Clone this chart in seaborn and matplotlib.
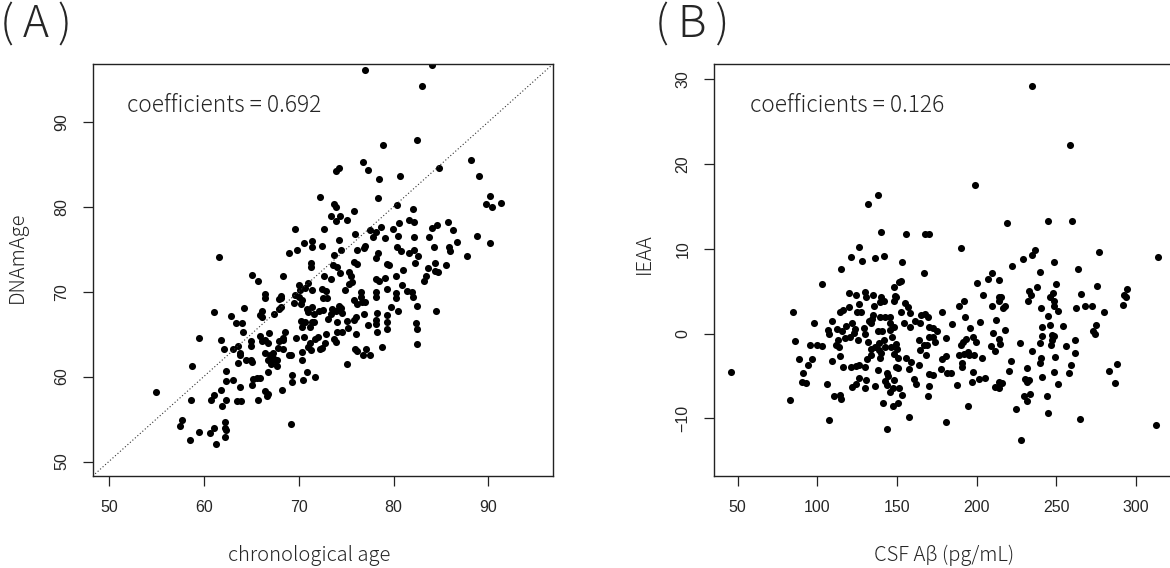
import numpy as np
import pandas as pd
import seaborn as sns
import matplotlib.pyplot as plt

# ---- panel A: chronological age vs DNAmAge ----
age_a = [
    72.2, 69.6, 71.4, 70.6, 71.4, 69.8, 69.0, 61.6, 71.3, 71.3, 65.1, 65.7, 68.3,
    70.0, 71.0, 70.7, 71.4, 70.1, 69.6, 66.5, 68.1,
    77.0, 84.1, 83.0, 78.9, 82.5, 76.8, 77.3, 73.9, 74.2, 78.5, 80.7, 84.8, 88.2,
    89.0, 90.2, 89.7, 90.4, 91.3, 78.4, 80.4, 82.0, 73.7, 73.9, 75.8, 73.4, 73.9,
    74.4, 75.1, 72.7, 72.5, 74.3, 74.5, 75.9, 77.0, 76.9, 76.1, 77.5, 78.2, 78.7,
    77.8, 79.1, 79.9, 80.6, 80.5, 81.6, 82.2, 82.2, 80.4, 80.8, 81.6, 82.2, 82.6,
    83.7, 84.0, 84.6, 85.7, 86.3, 86.7, 85.8, 85.9, 84.3, 88.8, 90.2, 87.7, 78.4,
    78.2, 79.3, 79.5, 82.3, 81.0, 83.6, 83.4, 84.4, 84.4, 84.7, 85.5, 83.2, 80.3,
    75.8, 76.1, 73.7, 73.6, 74.0, 74.4, 75.3, 75.5, 73.4, 72.7, 72.5, 72.9, 74.9,
    75.6, 75.3, 76.6, 78.1, 78.1, 78.5, 79.1, 79.3, 80.9, 80.3, 81.4, 81.9,
    55.0, 59.5, 58.8, 58.7, 57.7, 57.5, 59.5, 58.5, 60.7, 61.1, 61.3, 62.2, 62.2,
    62.3, 62.2, 61.1, 61.8, 62.1, 60.8, 61.1, 61.8, 61.9, 62.3, 62.3, 62.3, 63.1,
    63.8, 63.5, 63.9, 62.9, 64.2, 63.4, 64.0, 64.1, 63.1, 63.6, 63.8, 63.8, 63.6,
    64.4, 65.0, 65.1, 65.0, 65.1, 65.2, 65.6, 65.9, 65.7, 66.5, 66.8, 66.7, 68.2,
    69.2, 69.3, 69.3, 70.5, 71.7, 70.9, 70.4, 70.4, 69.2, 69.0, 69.7, 70.6, 66.8,
    67.7, 67.5, 66.5, 67.0, 67.3, 67.7, 67.3, 66.8, 67.1, 67.8, 68.4, 67.9, 68.4,
    68.6, 68.4, 66.1, 66.5, 66.8, 65.9, 66.9, 65.0, 66.1, 66.1, 65.9, 67.4, 68.1,
    67.9, 66.5, 68.1, 67.9, 69.5, 70.0, 70.4, 70.3, 70.9, 71.4, 71.0, 71.6, 72.1,
    70.2, 71.4, 70.7, 70.4, 71.2, 71.6, 71.7, 72.0, 71.2, 71.0, 71.3, 72.2,
    84.5, 82.5, 82.4, 82.5, 82.5, 80.5, 79.7, 80.3, 78.8, 79.3, 79.3, 79.3, 78.3,
    78.1, 78.2, 78.3, 77.3, 77.1, 76.8, 77.5, 75.9, 76.2, 75.1, 76.0, 75.1, 75.2,
    74.6, 74.0, 74.0, 73.1, 72.9, 72.8, 73.7, 73.9, 72.5, 72.6, 73.5, 73.9, 74.6,
    74.5, 74.3, 73.4, 75.8, 76.2, 76.7, 77.0, 76.0, 75.8, 76.9, 72.6, 73.0, 76.6,
    78.1, 82.0,
]
dnam_age = [
    81.1, 77.4, 76.0, 75.7, 75.2, 74.9, 74.5, 74.1, 73.4, 72.9, 72.0, 71.3, 71.9,
    70.8, 71.0, 70.4, 70.2, 70.2, 69.6, 69.7, 69.5,
    96.1, 96.7, 94.2, 87.3, 87.8, 85.3, 84.3, 84.2, 84.5, 83.3, 83.6, 84.5, 85.5,
    83.6, 81.3, 80.3, 80.0, 80.4, 81.0, 80.2, 79.7, 80.3, 80.0, 79.5, 78.9, 78.3,
    78.9, 78.4, 77.4, 75.4, 76.1, 74.9, 76.8, 75.4, 75.1, 74.9, 77.3, 77.0, 77.6,
    76.4, 76.3, 77.4, 78.1, 76.6, 78.4, 78.2, 76.4, 75.2, 74.8, 74.5, 74.9, 74.2,
    76.4, 77.5, 77.9, 78.2, 77.2, 75.9, 75.3, 74.8, 75.3, 76.6, 75.7, 74.2, 74.6,
    74.0, 73.3, 73.1, 73.4, 72.5, 72.8, 71.9, 73.4, 72.4, 72.3, 73.1, 71.2, 71.8,
    73.5, 73.2, 74.3, 73.1, 72.9, 72.2, 72.3, 71.9, 71.5, 71.9, 70.3, 70.1, 70.2,
    71.1, 70.9, 70.0, 70.0, 71.5, 71.3, 71.6, 70.3, 70.8, 69.8, 70.1, 70.0,
    58.2, 64.6, 61.3, 57.2, 54.9, 54.2, 53.5, 52.5, 53.4, 53.9, 52.1, 54.6, 54.0,
    53.7, 52.9, 67.6, 64.3, 63.3, 57.2, 57.8, 58.4, 56.5, 57.3, 60.7, 59.5, 59.6,
    58.8, 57.1, 57.1, 67.1, 68.1, 66.3, 66.3, 65.2, 63.3, 63.6, 62.8, 62.5, 61.6,
    61.9, 62.0, 61.7, 63.6, 59.0, 59.7, 59.8, 59.8, 57.3, 58.3, 58.0, 57.7, 58.4,
    54.4, 60.2, 59.4, 59.6, 59.9, 60.5, 62.0, 62.9, 62.5, 62.5, 64.6, 64.7, 60.6,
    61.2, 61.9, 62.8, 62.6, 62.2, 62.0, 62.8, 62.0, 61.5, 63.4, 63.3, 64.2, 64.5,
    65.2, 64.3, 64.2, 64.3, 63.9, 64.8, 65.1, 64.2, 67.0, 67.7, 67.3, 67.4, 68.2,
    68.0, 69.3, 69.3, 69.1, 68.7, 69.4, 69.0, 68.5, 68.0, 68.2, 67.6, 67.4, 67.7,
    66.6, 66.4, 66.4, 65.8, 65.8, 66.4, 64.4, 64.7, 63.9, 63.5, 63.1, 63.2,
    67.7, 68.3, 66.3, 65.6, 63.8, 67.7, 68.2, 69.2, 63.5, 67.3, 66.4, 65.6, 67.5,
    66.7, 66.2, 65.3, 66.1, 63.2, 62.5, 62.5, 63.2, 63.0, 61.5, 65.0, 66.5, 65.7,
    65.3, 65.3, 66.4, 66.8, 65.0, 63.9, 64.4, 64.1, 63.4, 67.9, 68.0, 67.7, 67.5,
    68.1, 68.3, 67.4, 69.0, 68.6, 68.8, 68.8, 67.0, 66.7, 67.4, 69.3, 69.3, 69.4,
    69.4, 69.4,
]

# ---- panel B: CSF Abeta vs IEAA ----
csf_ab = [
    138.1, 132.0, 139.8, 155.8, 167.3, 170.2, 126.0, 121.2, 127.9, 136.0, 142.1,
    152.9, 114.8, 167.0, 103.0, 152.3, 151.0, 147.9, 120.0, 124.0, 129.8, 135.2,
    149.0,
    234.7, 258.8, 198.8, 218.9, 244.8, 259.9, 189.9, 276.8, 313.8, 236.8, 234.9,
    228.8, 221.9, 248.5, 263.6, 240.0, 209.8, 206.9, 214.0, 200.0, 249.6, 238.2,
    232.9, 234.4, 247.9, 265.7, 275.6, 294.6, 292.5, 203.8, 214.3,
    46.0, 82.6, 84.7, 85.8, 88.5, 91.0, 90.6, 92.7, 94.1, 96.8, 98.1, 95.2, 99.8,
    102.7, 109.0, 106.5, 107.0, 109.0, 106.1, 107.1, 110.7, 114.1, 115.1, 114.1,
    112.0, 113.5, 112.8, 114.1, 115.8, 112.4, 115.3, 118.0, 116.2, 120.0, 117.3,
    120.2, 121.9, 123.6, 122.9, 121.0, 124.0, 125.9, 121.9, 124.2, 126.4, 130.2,
    124.6, 127.4, 126.4, 125.6, 129.2, 130.2, 130.4, 130.2, 136.5, 131.2, 133.5,
    133.5, 131.8, 132.5, 135.0, 134.6, 133.5, 135.6, 130.4, 139.1, 140.2, 138.3,
    138.3, 140.8, 138.9, 141.6, 142.7, 136.4, 138.5, 139.1, 142.2, 139.1, 141.6,
    140.2, 143.5, 144.3, 142.4, 143.9, 145.4, 141.2, 147.2, 143.9, 146.2, 146.8,
    145.4, 145.8, 147.9, 145.8, 149.6, 150.0, 147.9, 150.6, 149.6, 150.6, 148.2,
    147.8, 151.2, 153.0, 150.9, 157.3, 147.9, 149.4, 155.0, 156.9, 158.0, 152.6,
    154.2, 158.4, 161.5, 164.3, 165.1, 155.9, 157.6, 160.9, 161.9, 158.5, 163.9,
    163.6, 164.3, 166.8, 168.9, 168.0, 167.3, 169.2, 170.4, 170.2, 169.8, 170.2,
    169.4,
    312.6, 264.9, 227.8, 180.8, 194.8, 224.8, 244.7, 243.9, 231.7, 229.8, 233.6,
    231.9, 230.4, 232.9, 251.1, 286.9, 283.1, 288.1, 258.2, 259.5, 248.3, 240.9,
    220.6, 221.6, 231.7, 234.6, 239.8, 240.6, 249.2, 227.3, 239.6, 240.9, 240.9,
    245.9, 247.1, 248.8, 247.1, 246.7, 255.9, 262.0, 262.0, 254.3, 244.5, 251.2,
    248.8, 248.8, 246.0, 240.3, 232.2, 262.3, 268.0, 272.2, 279.9, 274.9, 273.2,
    274.1, 292.2, 294.0, 215.1, 214.3, 216.4, 217.5, 209.7, 212.0, 210.1, 217.9,
    213.9, 214.7, 211.8, 209.1, 201.9, 191.9, 188.7, 193.0, 196.0, 197.5, 199.6,
    193.3, 191.2, 190.2, 192.3, 195.4, 194.4, 198.6, 203.6, 191.1, 190.7, 198.0,
    197.4, 201.6, 205.1, 214.0, 211.5, 213.8, 215.7, 187.9, 184.7, 178.2, 180.7,
    173.9, 172.4, 172.4, 175.0, 178.4, 180.9, 177.8, 181.6, 183.7, 172.4, 189.1,
]
ieaa = [
    16.3, 15.3, 12.0, 11.7, 11.8, 11.8, 10.2, 9.0, 8.6, 8.9, 9.2,
    8.4, 7.6, 7.1, 5.9, 6.2, 6.1, 5.5, 4.8, 4.5, 4.9, 4.5,
    4.4,
    29.2, 22.3, 17.5, 13.1, 13.3, 13.3, 10.1, 9.6, 9.0, 9.9, 9.3,
    8.8, 8.0, 8.4, 7.6, 7.3, 7.2, 6.4, 6.3, 6.0, 5.9, 5.5,
    5.0, 4.6, 4.8, 4.7, 5.6, 5.3, 4.6, 4.5, 4.3,
    -4.5, -7.8, 2.5, -0.9, -3.0, -4.6, -5.7, -5.8, -3.7, -3.0, 1.3, -1.3, -1.4,
    -1.5, 1.5, 0.4, -0.1, -3.2, -6.0, -10.2, -7.4, -7.2, -7.7, -2.7,
    -1.3, -1.6, -0.8, 2.6, 2.8, 0.5, 0.3, 0.9, -3.9, 3.1, -0.5,
    -0.4, 1.3, 0.5, 0.1, -3.9, -3.8, -3.7, -6.3, -6.0, -5.2, -3.9,
    2.6, 2.6, 3.5, -0.8, 0.6, -0.1, -5.5, -6.4, -6.2, -3.0, -2.5,
    -1.8, -1.0, 1.5, 2.2, 1.7, 1.2, 3.3, 4.3, -2.9, -2.3, -4.3,
    0.3, 0.3, -1.1, -0.8, -1.6, -1.6, -1.9, 2.0, 2.0, 3.7, 3.9,
    4.3, -4.6, -5.0, -5.6, -6.1, -6.9, -8.2, -8.5, -11.2, -1.6, -0.4,
    1.2, 0.4, 0.8, 2.0, -1.2, -1.8, -2.4, -2.9, -3.9, -4.1, -5.5,
    -6.4, -6.4, -7.3, -8.2, -9.8, 3.9, 4.3, 3.6, 3.1, 2.4, 2.6,
    1.3, 0.8, 1.5, 1.3, 2.2, -2.9, -4.2, -5.4, -5.9, -3.3, -3.7,
    -0.7, -1.9, -1.4, -1.4, -2.5, 2.3, 2.0, 0.8, -0.4, -4.8, -6.2,
    -7.4,
    -10.8, -10.1, -12.5, -10.4, -8.5, -8.9, -9.4, -7.4, -8.0, -7.4, -7.1,
    -5.7, -5.3, -5.5, -5.9, -5.8, -4.4, -3.6, -4.6, -3.7, -4.5, -5.1,
    -4.4, -3.2, -4.1, -2.0, -3.5, -2.9, -2.8, -1.1, -1.1, -0.3, 0.8,
    1.0, -0.2, -0.3, -0.8, -1.4, -1.5, -0.8, -2.3, 0.9, 2.1, 2.7,
    3.8, 3.3, 4.3, 3.0, 3.8, 3.0, 3.2, 3.2, 2.5, 1.0, 0.3,
    0.0, 3.4, 4.3, 4.3, 3.9, 3.0, 3.2, 3.2, 1.6, 0.1, 0.4,
    -0.6, -1.2, -2.0, -1.5, 1.4, 3.9, 3.2, 2.0, 0.7, -0.4, -1.0,
    -0.6, -1.0, -1.4, -2.4, -2.5, -2.2, -2.5, -2.9, -3.5, -3.9, -4.5,
    -5.7, -5.3, -5.2, -5.7, -6.3, -6.4, -5.8, -6.1, 1.1, 2.6, -0.5,
    -1.0, 0.7, -0.4, 0.3, -3.0, -2.7, -4.2, -4.6, -4.6, -4.9, -2.5,
]

df_a = pd.DataFrame({"age": age_a, "dnam": dnam_age})
df_b = pd.DataFrame({"abeta": csf_ab, "ieaa": ieaa})

sns.set_style("ticks")
plt.rcParams["font.family"] = ["Liberation Sans", "DejaVu Sans"]
jp = ["Noto Sans CJK JP", "DejaVu Sans"]

fig = plt.figure(figsize=(11.7, 5.68), dpi=100)
W, H = 1170, 568
ax_a = fig.add_axes([92.7 / W, 1 - 476 / H, 460.3 / W, 412 / H])
ax_b = fig.add_axes([714.3 / W, 1 - 476 / H, 462.7 / W, 412 / H])

sns.scatterplot(data=df_a, x="age", y="dnam", ax=ax_a, color="black",
                s=26, linewidth=0, legend=False)
ax_a.axline((50, 50), slope=1, ls=(0, (1, 2)), lw=0.8, color="#333333")
ax_a.set_xlim(48.3, 96.8)
ax_a.set_ylim(48.3, 96.8)
ax_a.set_xticks([50, 60, 70, 80, 90])
ax_a.set_yticks([50, 60, 70, 80, 90])

sns.scatterplot(data=df_b, x="abeta", y="ieaa", ax=ax_b, color="black",
                s=26, linewidth=0, legend=False)
ax_b.set_xlim(35.3, 325.8)
ax_b.set_ylim(-16.8, 31.8)
ax_b.set_xticks([50, 100, 150, 200, 250, 300])
ax_b.set_yticks([-10, 0, 10, 20, 30])
ax_b.set_yticklabels(["\u221210", "0", "10", "20", "30"])

for ax in (ax_a, ax_b):
    for sp in ax.spines.values():
        sp.set_visible(True)
        sp.set_linewidth(1.0)
        sp.set_color("#222222")
    ax.set_xlabel("")
    ax.set_ylabel("")
    ax.tick_params(length=7, width=0.9, color="#222222", labelsize=11.5,
                   pad=10)
    ax.tick_params(axis="y", labelrotation=90)
    for lab in ax.get_yticklabels():
        lab.set_va("center")

txt = dict(family=jp, fontweight="light")
ax_a.text(0.0745, 0.883, "coefficients = 0.692", transform=ax_a.transAxes,
          fontsize=16.4, va="baseline", **txt)
ax_b.text(0.0765, 0.883, "coefficients = 0.126", transform=ax_b.transAxes,
          fontsize=16.4, va="baseline", **txt)

fig.text(309.5 / W, 1 - 561 / H, "chronological age", ha="center",
         va="baseline", fontsize=14.5, **txt)
fig.text(944 / W, 1 - 561 / H, "CSF A\u03b2 (pg/mL)", ha="center",
         va="baseline", fontsize=14.5, **txt)
fig.text(17 / W, 1 - 257 / H, "DNAmAge", rotation=90, ha="center",
         va="center", fontsize=14.5, **txt)
fig.text(644 / W, 1 - 254 / H, "IEAA", rotation=90, ha="center",
         va="center", fontsize=14.5, **txt)

fig.text(0, 1 - 38 / H, "(\u2009A\u2009)", fontsize=32, va="baseline", **txt)
fig.text(655 / W, 1 - 38 / H, "(\u2009B\u2009)", fontsize=32, va="baseline",
         **txt)

fig.savefig("out.png", dpi=100)
